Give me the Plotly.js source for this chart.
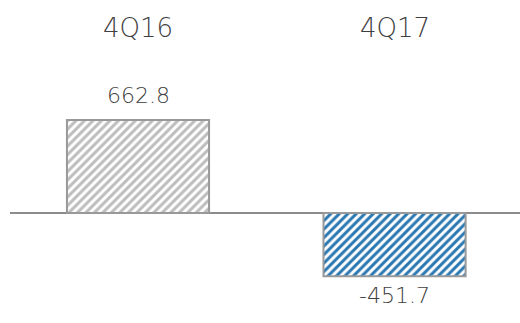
<!DOCTYPE html>
<html><head><meta charset="utf-8">
<script src="https://cdn.plot.ly/plotly-3.0.1.min.js"></script>
<style>html,body{margin:0;padding:0;background:#fff}#chart{width:520px;height:323px}</style>
</head><body><div id="chart"></div>
<script>
const categories = ["4Q16", "4Q17"];
const values = [662.8, -451.7];
const valueLabels = ["662.8", "-451.7"];
const fgColors = ["#bdbdbd", "#2a78b2"];

const font = "'DejaVu Sans', sans-serif";
const trace = {
  type: "bar",
  x: [0, 1],
  y: values,
  width: 0.554,
  marker: {
    color: "#ffffff",
    line: {color: "#999999", width: 2},
    pattern: {shape: "/", fgcolor: fgColors, bgcolor: "#ffffff", size: 6, solidity: 0.5}
  },
  hoverinfo: "none"
};
const catAnn = categories.map((c, i) => ({
  x: i, xref: "x", y: 1 - 28/323, yref: "paper", text: c, showarrow: false,
  font: {family: font, size: 26, color: "#404040", weight: 300}, xanchor: "center", yanchor: "middle"
}));
const valAnn = values.map((v, i) => ({
  x: i, xref: "x", y: v, yref: "y", text: valueLabels[i], showarrow: false,
  yshift: v > 0 ? 25 : -19,
  font: {family: font, size: 22, color: "#404040", weight: 300}, xanchor: "center", yanchor: "middle"
}));
const layout = {
  width: 520, height: 323,
  margin: {l: 10, r: 0, t: 0, b: 0},
  paper_bgcolor: "#fff", plot_bgcolor: "#fff",
  showlegend: false,
  xaxis: {range: [-0.499, 1.489], showticklabels: false, showgrid: false, zeroline: false, ticks: ""},
  yaxis: {range: [-784, 1518], showticklabels: false, showgrid: false, zeroline: true, zerolinecolor: "#8c8c8c", zerolinewidth: 1.5, ticks: ""},
  annotations: catAnn.concat(valAnn)
};
Plotly.newPlot("chart", [trace], layout, {staticPlot: true});
</script></body></html>
